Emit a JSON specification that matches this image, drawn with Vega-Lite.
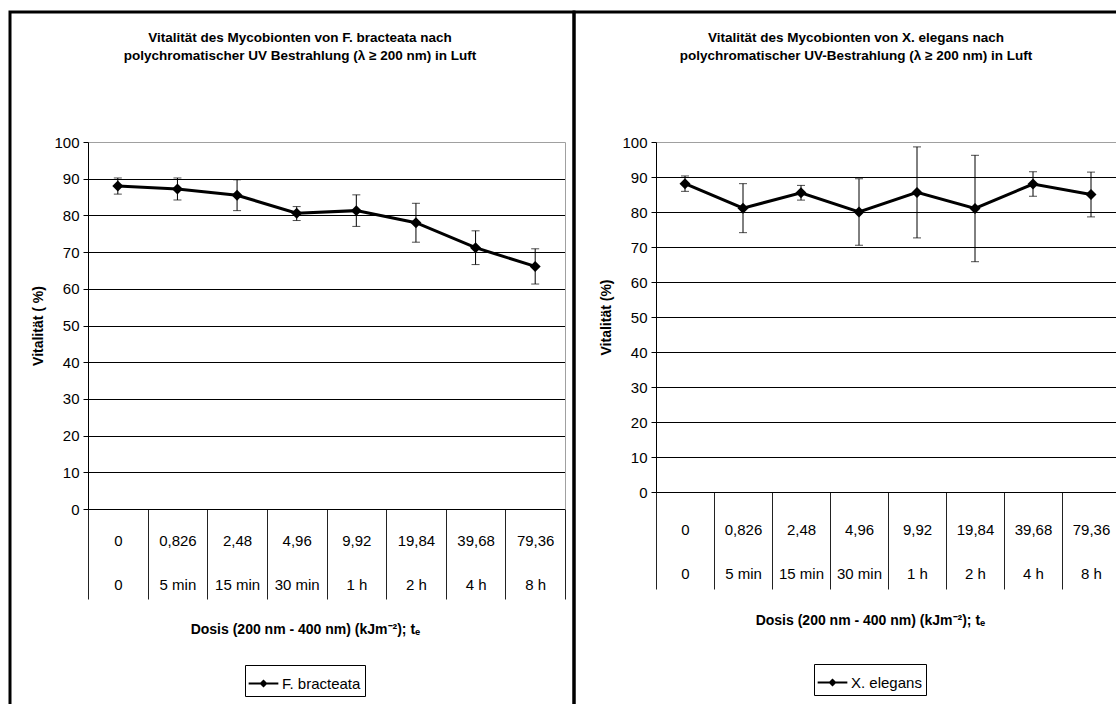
{
  "$schema": "https://vega.github.io/schema/vega-lite/v6.json",
  "background": "white",
  "padding": {"left": 8, "top": 10, "right": 0, "bottom": 0},
  "spacing": 0,
  "bounds": "flush",
  "resolve": {"scale": {"color": "independent"}, "legend": {"color": "independent"}},
  "config": {
    "view": {"stroke": "black", "strokeWidth": 3},
    "font": "Liberation Sans Narrow, Arial Narrow, Liberation Sans, sans-serif"
  },
  "datasets": {
    "fb": [
      {"cat": "0|0", "v": 88.0, "lo": 85.8, "hi": 90.2, "series": "F. bracteata"},
      {"cat": "0,826|5 min", "v": 87.2, "lo": 84.2, "hi": 90.2, "series": "F. bracteata"},
      {"cat": "2,48|15 min", "v": 85.5, "lo": 81.3, "hi": 89.7, "series": "F. bracteata"},
      {"cat": "4,96|30 min", "v": 80.6, "lo": 78.6, "hi": 82.4, "series": "F. bracteata"},
      {"cat": "9,92|1 h", "v": 81.3, "lo": 77.0, "hi": 85.6, "series": "F. bracteata"},
      {"cat": "19,84|2 h", "v": 78.0, "lo": 72.7, "hi": 83.3, "series": "F. bracteata"},
      {"cat": "39,68|4 h", "v": 71.2, "lo": 66.6, "hi": 75.8, "series": "F. bracteata"},
      {"cat": "79,36|8 h", "v": 66.1, "lo": 61.3, "hi": 70.9, "series": "F. bracteata"}
    ],
    "xe": [
      {"cat": "0|0", "v": 88.1, "lo": 85.9, "hi": 90.3, "series": "X. elegans"},
      {"cat": "0,826|5 min", "v": 81.1, "lo": 74.1, "hi": 88.1, "series": "X. elegans"},
      {"cat": "2,48|15 min", "v": 85.5, "lo": 83.4, "hi": 87.6, "series": "X. elegans"},
      {"cat": "4,96|30 min", "v": 80.0, "lo": 70.5, "hi": 89.5, "series": "X. elegans"},
      {"cat": "9,92|1 h", "v": 85.6, "lo": 72.6, "hi": 98.6, "series": "X. elegans"},
      {"cat": "19,84|2 h", "v": 81.0, "lo": 65.8, "hi": 96.2, "series": "X. elegans"},
      {"cat": "39,68|4 h", "v": 88.0, "lo": 84.5, "hi": 91.5, "series": "X. elegans"},
      {"cat": "79,36|8 h", "v": 85.0, "lo": 78.6, "hi": 91.4, "series": "X. elegans"}
    ]
  },
  "hconcat": [
    {
      "width": 564,
      "height": 700,
      "data": {"name": "fb"},
      "title": {
        "text": ["Vitalität des Mycobionten von F. bracteata nach", "polychromatischer UV Bestrahlung (λ ≥ 200 nm) in Luft"],
        "fontSize": 13.5, "fontWeight": "bold", "color": "black", "lineHeight": 18,
        "anchor": "middle", "frame": "group", "offset": -50, "dx": 8
      },
      "encoding": {
        "x": {
          "field": "cat", "type": "nominal", "sort": null,
          "scale": {"range": [78, 555], "paddingInner": 0, "paddingOuter": 0},
          "axis": {
            "orient": "bottom", "offset": -203, "tickBand": "extent", "tickSize": 90,
            "tickColor": "#222", "domainColor": "black", "labelAngle": 0,
            "labelExpr": "split(datum.label, '|')", "labelFontSize": 15, "labelColor": "black",
            "labelBaseline": "middle", "labelLineHeight": 44, "labelPadding": -59,
            "title": "Dosis (200 nm - 400 nm) (kJm⁻²); tₑ", "titleFontSize": 14, "titleFontWeight": "bold",
            "titleColor": "black", "titleY": 120, "titleX": 295, "titleBaseline": "middle"
          }
        }
      },
      "resolve": {"axis": {"y": "independent"}},
      "layer": [
        {
          "mark": {"type": "line", "color": "black", "strokeWidth": 3},
          "encoding": {
            "y": {
              "field": "v", "type": "quantitative",
              "scale": {"domain": [0, 100], "range": [497, 130], "nice": false},
              "axis": {
                "orient": "left", "offset": -78, "values": [0, 10, 20, 30, 40, 50, 60, 70, 80, 90, 100],
                "tickSize": 5, "tickColor": "black", "domainColor": "black",
                "gridColor": {"condition": {"test": "datum.value === 100", "value": "#a0a0a0"}, "value": "black"},
                "labelFontSize": 15, "labelColor": "black", "labelPadding": 4,
                "title": "Vitalität ( %)", "titleFontSize": 14, "titleFontWeight": "bold", "titleColor": "black",
                "titlePadding": 8
              }
            }
          }
        },
        {
          "mark": {"type": "rule", "color": "black", "strokeWidth": 1},
          "encoding": {
            "y": {"field": "lo", "type": "quantitative", "scale": {"domain": [0, 100], "range": [497, 130], "nice": false},
              "axis": {"orient": "right", "offset": -9, "domainColor": "#a0a0a0", "ticks": false, "labels": false, "grid": false, "title": null}},
            "y2": {"field": "hi"}
          }
        },
        {
          "mark": {"type": "tick", "color": "black", "size": 8, "thickness": 1},
          "encoding": {"y": {"field": "lo", "type": "quantitative", "axis": null}}
        },
        {
          "mark": {"type": "tick", "color": "black", "size": 8, "thickness": 1},
          "encoding": {"y": {"field": "hi", "type": "quantitative", "axis": null}}
        },
        {
          "mark": {"type": "point", "shape": "diamond", "filled": true, "size": 120, "opacity": 1},
          "encoding": {
            "y": {"field": "v", "type": "quantitative", "axis": null},
            "color": {
              "field": "series", "type": "nominal", "scale": {"range": ["black"]},
              "legend": {
                "title": null, "orient": "none", "legendX": 235, "legendY": 653,
                "strokeColor": "black", "padding": 4, "labelFontSize": 15, "labelColor": "black",
                "symbolSize": 729,
                "symbolType": "M-1.1,-0.07L1.1,-0.07L1.1,0.07L-1.1,0.07Z M0,-0.3L0.3,0L0,0.3L-0.3,0Z",
                "encode": {"symbols": {"update": {
                  "shape": {"value": "M-1.1,-0.07L1.1,-0.07L1.1,0.07L-1.1,0.07Z M0,-0.3L0.3,0L0,0.3L-0.3,0Z"},
                  "fill": {"value": "black"}, "stroke": {"value": "transparent"}, "size": {"value": 729}, "opacity": {"value": 1}
                }}}
              }
            }
          }
        }
      ]
    },
    {
      "width": 564,
      "height": 700,
      "data": {"name": "xe"},
      "title": {
        "text": ["Vitalität des Mycobionten von X. elegans nach", "polychromatischer UV-Bestrahlung (λ ≥ 200 nm) in Luft"],
        "fontSize": 13.5, "fontWeight": "bold", "color": "black", "lineHeight": 18,
        "anchor": "middle", "frame": "group", "offset": -50
      },
      "encoding": {
        "x": {
          "field": "cat", "type": "nominal", "sort": null,
          "scale": {"range": [82, 546], "paddingInner": 0, "paddingOuter": 0},
          "axis": {
            "orient": "bottom", "offset": -220, "tickBand": "extent", "tickSize": 97,
            "tickColor": "#222", "domainColor": "black", "labelAngle": 0,
            "labelExpr": "split(datum.label, '|')", "labelFontSize": 15, "labelColor": "black",
            "labelBaseline": "middle", "labelLineHeight": 44, "labelPadding": -60,
            "title": "Dosis (200 nm - 400 nm) (kJm⁻²); tₑ", "titleFontSize": 14, "titleFontWeight": "bold",
            "titleColor": "black", "titleY": 128, "titleX": 296, "titleBaseline": "middle"
          }
        }
      },
      "resolve": {"axis": {"y": "independent"}},
      "layer": [
        {
          "mark": {"type": "line", "color": "black", "strokeWidth": 3},
          "encoding": {
            "y": {
              "field": "v", "type": "quantitative",
              "scale": {"domain": [0, 100], "range": [480, 130], "nice": false},
              "axis": {
                "orient": "left", "offset": -82, "values": [0, 10, 20, 30, 40, 50, 60, 70, 80, 90, 100],
                "tickSize": 5, "tickColor": "black", "domainColor": "black",
                "gridColor": {"condition": {"test": "datum.value === 100", "value": "#a0a0a0"}, "value": "black"},
                "labelFontSize": 15, "labelColor": "black", "labelPadding": 4,
                "title": "Vitalität (%)", "titleFontSize": 14, "titleFontWeight": "bold", "titleColor": "black",
                "titlePadding": 8
              }
            }
          }
        },
        {
          "mark": {"type": "rule", "color": "black", "strokeWidth": 1},
          "encoding": {
            "y": {"field": "lo", "type": "quantitative", "scale": {"domain": [0, 100], "range": [480, 130], "nice": false},
              "axis": {"orient": "right", "offset": -18, "domainColor": "#a0a0a0", "ticks": false, "labels": false, "grid": false, "title": null}},
            "y2": {"field": "hi"}
          }
        },
        {
          "mark": {"type": "tick", "color": "black", "size": 8, "thickness": 1},
          "encoding": {"y": {"field": "lo", "type": "quantitative", "axis": null}}
        },
        {
          "mark": {"type": "tick", "color": "black", "size": 8, "thickness": 1},
          "encoding": {"y": {"field": "hi", "type": "quantitative", "axis": null}}
        },
        {
          "mark": {"type": "point", "shape": "diamond", "filled": true, "size": 120, "opacity": 1},
          "encoding": {
            "y": {"field": "v", "type": "quantitative", "axis": null},
            "color": {
              "field": "series", "type": "nominal", "scale": {"range": ["black"]},
              "legend": {
                "title": null, "orient": "none", "legendX": 240, "legendY": 652,
                "strokeColor": "black", "padding": 4, "labelFontSize": 15, "labelColor": "black",
                "symbolSize": 729,
                "symbolType": "M-1.1,-0.07L1.1,-0.07L1.1,0.07L-1.1,0.07Z M0,-0.3L0.3,0L0,0.3L-0.3,0Z",
                "encode": {"symbols": {"update": {
                  "shape": {"value": "M-1.1,-0.07L1.1,-0.07L1.1,0.07L-1.1,0.07Z M0,-0.3L0.3,0L0,0.3L-0.3,0Z"},
                  "fill": {"value": "black"}, "stroke": {"value": "transparent"}, "size": {"value": 729}, "opacity": {"value": 1}
                }}}
              }
            }
          }
        }
      ]
    }
  ]
}
